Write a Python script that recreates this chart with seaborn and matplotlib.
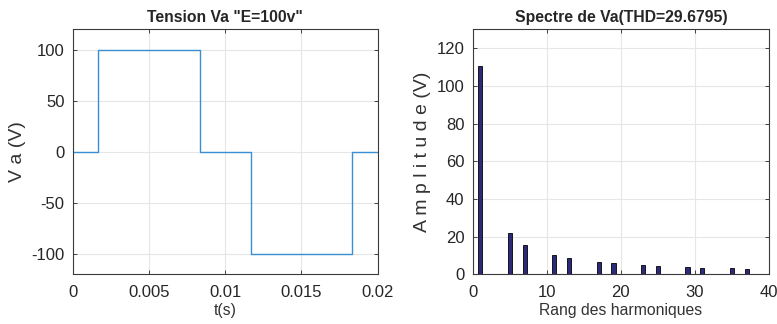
import matplotlib
matplotlib.use("Agg")
import matplotlib.pyplot as plt
import seaborn as sns
import pandas as pd

# waveform data (step changes)
t_points = [0.0, 0.001667, 0.008333, 0.011667, 0.018333, 0.02]
va_points = [0, 100, 0, -100, 0, 0]

# spectrum data
harm_rank = [1, 5, 7, 11, 13, 17, 19, 23, 25, 29, 31, 35, 37]
harm_amp = [110.3, 22.0, 15.8, 10.0, 8.5, 6.5, 5.8, 4.8, 4.4, 3.8, 3.6, 3.2, 3.0]

left_xticks = [0, 0.005, 0.01, 0.015, 0.02]
left_xticklabels = ["0", "0.005", "0.01", "0.015", "0.02"]
left_yticks = [-100, -50, 0, 50, 100]
right_xticks = [0, 10, 20, 30, 40]
right_yticks = [0, 20, 40, 60, 80, 100, 120]

sns.set_theme(style="whitegrid")
plt.rcParams['font.family'] = ['Liberation Sans', 'DejaVu Sans']
plt.rcParams['axes.unicode_minus'] = False

fig = plt.figure(figsize=(7.77, 3.24), dpi=100)
ax1 = fig.add_axes([0.0936, 0.1534, 0.3925, 0.7562])
ax2 = fig.add_axes([0.6084, 0.1534, 0.3813, 0.7562])

df_w = pd.DataFrame({"t": t_points, "va": va_points})
sns.lineplot(data=df_w, x="t", y="va", ax=ax1, drawstyle="steps-post",
             color="#3a8ed3", linewidth=1.0, estimator=None, sort=False)

df_s = pd.DataFrame({"rank": harm_rank, "amp": harm_amp})
sns.barplot(data=df_s, x="rank", y="amp", ax=ax2, native_scale=True,
            width=0.28, color="#2b2a7c", edgecolor="black", linewidth=0.6,
            saturation=1, errorbar=None)

tick_color = "#262626"
for ax in (ax1, ax2):
    ax.grid(True, color="#e6e6e6", linewidth=0.8)
    for s in ax.spines.values():
        s.set_color("#3a3a3a")
        s.set_linewidth(0.8)
    ax.tick_params(axis="both", direction="in", length=3, width=0.6,
                   colors=tick_color, labelsize=12, pad=6,
                   bottom=True, left=True, top=True, right=True)
    ax.tick_params(axis="x", pad=8)
    ax.set_axisbelow(True)

ax1.set_xlim(0, 0.02)
ax1.set_ylim(-120, 120)
ax1.set_xticks(left_xticks)
ax1.set_xticklabels(left_xticklabels)
ax1.set_yticks(left_yticks)
ax1.set_title('Tension Va "E=100v"', fontsize=11.3, fontweight="bold", pad=5)
ax1.set_xlabel("t(s)", fontsize=11.3, color="#333333", labelpad=2)
ax1.set_ylabel("V a (V)", fontsize=14, color="#333333", labelpad=4)

ax2.set_xlim(0, 40)
ax2.set_ylim(0, 130)
ax2.set_xticks(right_xticks)
ax2.set_yticks(right_yticks)
ax2.set_title("Spectre de Va(THD=29.6795)", fontsize=11.3, fontweight="bold", pad=5)
ax2.set_xlabel("Rang des harmoniques", fontsize=11.3, color="#333333", labelpad=2)
ax2.set_ylabel("A m p l i t u d e (V)", fontsize=14, color="#333333", labelpad=4)

fig.savefig("out.png", dpi=100)
